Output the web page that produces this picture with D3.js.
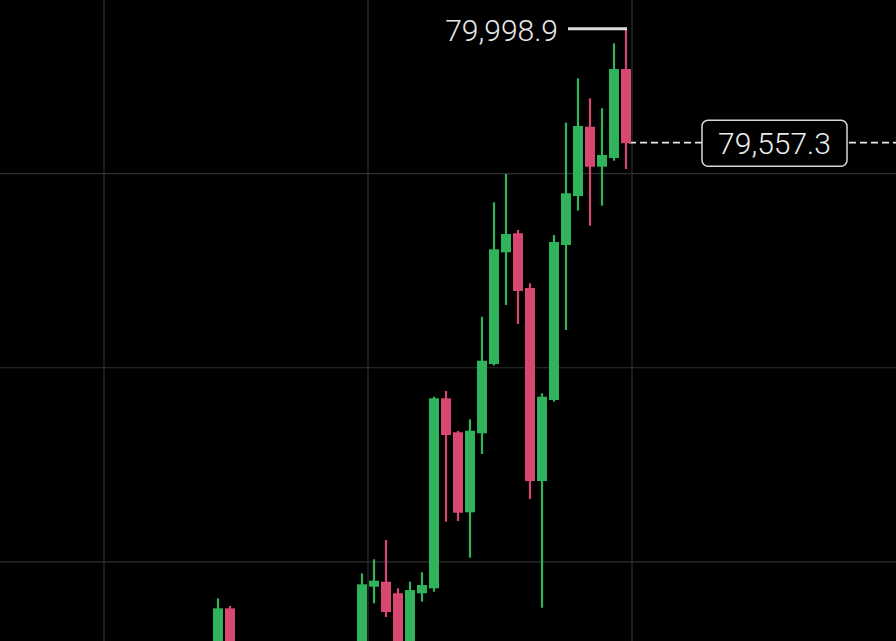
<!DOCTYPE html>
<html>
<head>
<meta charset="utf-8">
<script src="https://cdn.jsdelivr.net/npm/d3@7/dist/d3.min.js"></script>
<style>
  html, body { margin: 0; padding: 0; background: #000; overflow: hidden; }
  svg { display: block; }
</style>
</head>
<body>
<script>
// candle slots (index along the time axis), only the visible ones
let slots  = [9, 10, 21, 22, 23, 24, 25, 26, 27, 28, 29, 30, 31, 32, 33, 34, 35, 36, 37, 38, 39, 40, 41, 42, 43];
let opens  = [77561.4, 77761.0, 77561.4, 77844.5, 77863.8, 77819.0, 77580.7, 77819.0, 77838.3, 78572.1, 78440.8, 78131.8, 78436.9, 78704.5, 79135.9, 79209.3, 78998.0, 78252.7, 78565.5, 79164.1, 79353.3, 79621.0, 79466.5, 79500.1, 79843.8];
let highs  = [77799.7, 77769.9, 77896.2, 77950.3, 78024.8, 77838.3, 77863.8, 77900.1, 78578.2, 78600.3, 78445.8, 78491.0, 78887.2, 79329.0, 79438.3, 79222.0, 79016.2, 78591.4, 79202.7, 79636.4, 79807.9, 79730.7, 79692.1, 79943.1, 79998.9];
let lows   = [77503.4, 77445.5, 77522.8, 77780.4, 77727.4, 77542.1, 77553.7, 77786.5, 77825.2, 78095.5, 78098.2, 77956.5, 78357.0, 78698.7, 78932.4, 78859.0, 78183.2, 77763.4, 78558.9, 78835.8, 79296.6, 79238.6, 79315.9, 79489.7, 79457.6];
let closes = [77761.0, 77484.1, 77853.7, 77867.6, 77746.8, 77580.7, 77831.7, 77851.0, 78572.1, 78430.3, 78130.2, 78446.9, 78717.3, 79147.5, 79206.6, 78986.5, 78252.7, 78578.2, 79175.7, 79363.8, 79623.7, 79466.5, 79511.7, 79843.8, 79557.3];

let gridSlots  = [0, 22, 44];
let gridPrices = [79440, 78690, 77940];

let highLabel = 79998.9;
let lastPrice = 79557.3;

let width = 896, height = 641;
let green = "#2fb35b", red = "#d8476f";

let candles = slots.map(function(s, i){
  return { slot: s, o: opens[i], h: highs[i], l: lows[i], c: closes[i] };
});

let x = d3.scaleLinear().domain([0, 66]).range([104, 896]);
let y = d3.scaleLinear().domain([77634.8, 80110.3]).range([height, 0]);

let fmt = d3.format(",.1f");

let viz = d3.select("body")
  .append("svg")
    .attr("width", width)
    .attr("height", height)
    .style("background", "#000")
;

// grid
viz.selectAll(".vgrid").data(gridSlots)
  .enter()
    .append("line")
    .attr("class", "vgrid")
    .attr("x1", d => x(d)).attr("x2", d => x(d))
    .attr("y1", 0).attr("y2", height)
    .attr("stroke", "#303030")
    .attr("stroke-width", 1.2)
;
viz.selectAll(".hgrid").data(gridPrices)
  .enter()
    .append("line")
    .attr("class", "hgrid")
    .attr("x1", 0).attr("x2", width)
    .attr("y1", d => y(d)).attr("y2", d => y(d))
    .attr("stroke", "#303030")
    .attr("stroke-width", 1.2)
;

// last price dashed line
viz.append("line")
  .attr("x1", x(44) - 3).attr("x2", width)
  .attr("y1", y(lastPrice) - 0.5).attr("y2", y(lastPrice) - 0.5)
  .attr("stroke", "#e6e6e6")
  .attr("stroke-width", 1.8)
  .attr("stroke-dasharray", "7,4")
;

// candles
let bodyW = 10;
let g = viz.selectAll(".candle").data(candles)
  .enter()
    .append("g")
    .attr("class", "candle")
;
g.append("line")
  .attr("x1", d => x(d.slot + 0.5)).attr("x2", d => x(d.slot + 0.5))
  .attr("y1", d => y(d.h)).attr("y2", d => y(d.l))
  .attr("stroke", d => d.c >= d.o ? green : red)
  .attr("stroke-width", 2.2)
;
g.append("rect")
  .attr("x", d => x(d.slot + 0.5) - bodyW / 2)
  .attr("width", bodyW)
  .attr("y", d => y(Math.max(d.o, d.c)))
  .attr("height", d => Math.max(1.5, Math.abs(y(d.o) - y(d.c))))
  .attr("fill", d => d.c >= d.o ? green : red)
;

// high marker
let last = candles[candles.length - 1];
viz.append("line")
  .attr("x1", x(last.slot + 0.5) - 58).attr("x2", x(last.slot + 0.5) + 1)
  .attr("y1", y(highLabel)).attr("y2", y(highLabel))
  .attr("stroke", "#dcdcdc")
  .attr("stroke-width", 3)
;
viz.append("text")
  .attr("x", x(last.slot + 0.5) - 68)
  .attr("y", y(highLabel) + 12)
  .attr("text-anchor", "end")
  .attr("font-family", "Roboto, sans-serif")
  .attr("font-weight", 300)
  .attr("font-size", 30)
  .attr("fill", "#e8e8e8")
  .text(fmt(highLabel))
;

// last price box
let bx = 702, bw = 145, bh = 46;
viz.append("rect")
  .attr("x", bx).attr("y", y(lastPrice) - 23)
  .attr("width", bw).attr("height", bh)
  .attr("rx", 6)
  .attr("fill", "#000")
  .attr("stroke", "#d8d8d8")
  .attr("stroke-width", 1.5)
;
viz.append("text")
  .attr("x", bx + bw / 2)
  .attr("y", y(lastPrice) + 11)
  .attr("text-anchor", "middle")
  .attr("font-family", "Roboto, sans-serif")
  .attr("font-weight", 300)
  .attr("font-size", 30)
  .attr("fill", "#ececec")
  .text(fmt(lastPrice))
;
</script>
</body>
</html>
